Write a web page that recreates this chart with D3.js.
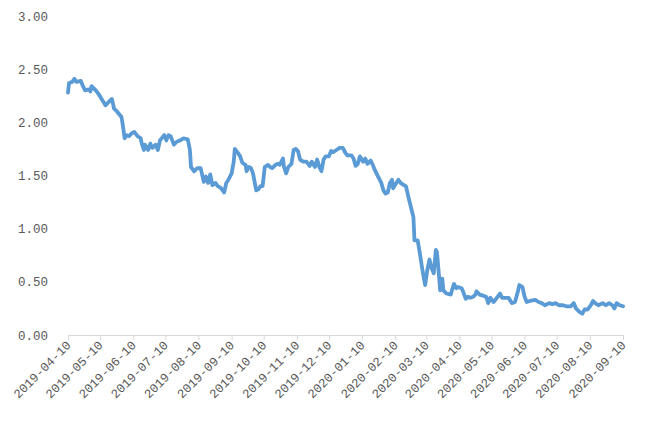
<!DOCTYPE html>
<html>
<head>
<meta charset="utf-8">
<script src="https://cdn.jsdelivr.net/npm/d3@7/dist/d3.min.js"></script>
<style>
  html, body { margin: 0; padding: 0; background: #fff; }
  svg { display: block; }
  text { font-family: "Liberation Mono", "DejaVu Sans Mono", monospace; fill: #595959; }
</style>
</head>
<body>
<svg id="chart" width="664" height="427"></svg>
<script>
const dates = [
"2019-04-10","2019-04-11","2019-04-14","2019-04-16","2019-04-18","2019-04-22","2019-04-24","2019-04-26","2019-04-29","2019-05-01",
"2019-05-02","2019-05-06","2019-05-09","2019-05-12","2019-05-15","2019-05-17","2019-05-21","2019-05-22","2019-05-23","2019-05-26",
"2019-05-30","2019-05-31","2019-06-02","2019-06-04","2019-06-06","2019-06-09","2019-06-11","2019-06-14","2019-06-17","2019-06-18",
"2019-06-20","2019-06-21","2019-06-24","2019-06-26","2019-06-28","2019-07-01","2019-07-03","2019-07-05","2019-07-09","2019-07-11",
"2019-07-13","2019-07-15","2019-07-18","2019-07-21","2019-07-24","2019-07-27","2019-07-31","2019-08-02","2019-08-03","2019-08-06",
"2019-08-09","2019-08-12","2019-08-15","2019-08-17","2019-08-19","2019-08-21","2019-08-23","2019-08-26","2019-08-28","2019-08-30",
"2019-09-01","2019-09-03","2019-09-05","2019-09-07","2019-09-10","2019-09-12","2019-09-13","2019-09-16","2019-09-18","2019-09-20",
"2019-09-23","2019-09-24","2019-09-26","2019-09-28","2019-09-30","2019-10-03","2019-10-05","2019-10-07","2019-10-09","2019-10-11",
"2019-10-14","2019-10-16","2019-10-18","2019-10-21","2019-10-23","2019-10-25","2019-10-28","2019-10-29","2019-10-31","2019-11-02",
"2019-11-05","2019-11-07","2019-11-09","2019-11-11","2019-11-13","2019-11-16","2019-11-19","2019-11-22","2019-11-24","2019-11-27",
"2019-11-29","2019-12-01","2019-12-03","2019-12-05","2019-12-07","2019-12-10","2019-12-12","2019-12-14","2019-12-17","2019-12-20",
"2019-12-23","2019-12-25","2019-12-27","2019-12-31","2020-01-02","2020-01-04","2020-01-06","2020-01-08","2020-01-11","2020-01-13",
"2020-01-15","2020-01-18","2020-01-20","2020-01-22","2020-01-25","2020-01-28","2020-01-30","2020-02-01","2020-02-03","2020-02-05",
"2020-02-07","2020-02-08","2020-02-11","2020-02-13","2020-02-15","2020-02-18","2020-02-20","2020-02-23","2020-02-25","2020-02-27",
"2020-02-28","2020-03-02","2020-03-04","2020-03-06","2020-03-08","2020-03-09","2020-03-11","2020-03-13","2020-03-15","2020-03-17",
"2020-03-19","2020-03-20","2020-03-22","2020-03-23","2020-03-25","2020-03-26","2020-03-29","2020-04-02","2020-04-03","2020-04-05",
"2020-04-07","2020-04-09","2020-04-12","2020-04-13","2020-04-16","2020-04-18","2020-04-20","2020-04-23","2020-04-25","2020-04-26",
"2020-04-29","2020-05-02","2020-05-05","2020-05-07","2020-05-09","2020-05-12","2020-05-15","2020-05-18","2020-05-20","2020-05-23",
"2020-05-26","2020-05-29","2020-06-01","2020-06-04","2020-06-05","2020-06-08","2020-06-10","2020-06-12","2020-06-15","2020-06-20",
"2020-06-23","2020-06-26","2020-06-29","2020-07-03","2020-07-06","2020-07-09","2020-07-12","2020-07-16","2020-07-19","2020-07-23",
"2020-07-26","2020-07-28","2020-07-31","2020-08-03","2020-08-05","2020-08-08","2020-08-11","2020-08-13","2020-08-15","2020-08-18",
"2020-08-22","2020-08-25","2020-08-28","2020-08-31","2020-09-02","2020-09-04","2020-09-07","2020-09-10"
];
const values = [
2.28,2.37,2.38,2.41,2.38,2.39,2.34,2.30,2.31,2.29,
2.34,2.30,2.26,2.21,2.16,2.18,2.22,2.18,2.13,2.10,
2.05,1.99,1.85,1.88,1.87,1.90,1.91,1.87,1.85,1.80,
1.74,1.79,1.74,1.80,1.76,1.79,1.74,1.83,1.88,1.83,
1.88,1.87,1.79,1.82,1.83,1.85,1.84,1.74,1.58,1.54,
1.57,1.57,1.44,1.49,1.43,1.51,1.41,1.43,1.40,1.39,
1.37,1.34,1.43,1.46,1.52,1.63,1.75,1.71,1.68,1.62,
1.60,1.54,1.58,1.57,1.52,1.36,1.37,1.40,1.40,1.58,
1.60,1.58,1.57,1.60,1.61,1.60,1.66,1.58,1.52,1.58,
1.61,1.74,1.75,1.73,1.65,1.63,1.63,1.59,1.63,1.58,
1.65,1.58,1.54,1.65,1.68,1.68,1.73,1.72,1.74,1.76,
1.76,1.72,1.69,1.69,1.66,1.59,1.61,1.68,1.63,1.66,
1.61,1.64,1.60,1.55,1.49,1.43,1.36,1.33,1.34,1.43,
1.46,1.38,1.43,1.46,1.43,1.41,1.40,1.27,1.19,1.11,
0.89,0.89,0.77,0.64,0.52,0.47,0.61,0.71,0.63,0.58,
0.80,0.78,0.55,0.42,0.53,0.42,0.39,0.38,0.42,0.48,
0.44,0.45,0.44,0.42,0.34,0.36,0.35,0.36,0.38,0.41,
0.38,0.37,0.36,0.30,0.35,0.31,0.35,0.39,0.35,0.35,
0.35,0.30,0.31,0.42,0.47,0.45,0.36,0.31,0.32,0.33,
0.31,0.30,0.28,0.30,0.29,0.30,0.28,0.28,0.27,0.27,
0.30,0.25,0.22,0.20,0.24,0.24,0.28,0.32,0.30,0.28,
0.30,0.28,0.30,0.28,0.25,0.30,0.28,0.27
];
const yTicks = [0, 0.5, 1.0, 1.5, 2.0, 2.5, 3.0];
const xTickLabels = [
"2019-04-10","2019-05-10","2019-06-10","2019-07-10","2019-08-10","2019-09-10",
"2019-10-10","2019-11-10","2019-12-10","2020-01-10","2020-02-10","2020-03-10",
"2020-04-10","2020-05-10","2020-06-10","2020-07-10","2020-08-10","2020-09-10"
];

const parse = d3.timeParse("%Y-%m-%d");
const data = dates.map((d, i) => ({ date: parse(d), value: values[i] }));

const svg = d3.select("#chart");
const margin = { left: 68, right: 41, top: 16, bottom: 92 };
const W = 664, H = 427;

const x = d3.scaleTime()
  .domain([parse(xTickLabels[0]), parse(xTickLabels[xTickLabels.length - 1])])
  .range([margin.left, W - margin.right]);
const y = d3.scaleLinear()
  .domain([0, 3])
  .range([H - margin.bottom, margin.top]);

// y-axis labels (no line)
const yAxis = svg.append("g")
  .attr("transform", `translate(${margin.left},0)`)
  .call(d3.axisLeft(y).tickValues(yTicks).tickFormat(d3.format(".2f")).tickSize(0).tickPadding(20));
yAxis.select(".domain").remove();
yAxis.selectAll("text").style("font-size", "12.5px").attr("fill", "#595959");

// x-axis
const xAxis = svg.append("g")
  .attr("transform", `translate(0,${y(0)})`)
  .call(d3.axisBottom(x).tickValues(xTickLabels.map(parse)).tickFormat(d3.timeFormat("%Y-%m-%d")).tickSizeInner(5).tickSizeOuter(0));
xAxis.select(".domain").attr("stroke", "#d9d9d9").attr("stroke-width", 1);
xAxis.selectAll(".tick line").attr("stroke", "#d9d9d9");
xAxis.selectAll("text")
  .style("font-size", "12.5px")
  .attr("fill", "#595959")
  .attr("text-anchor", "end")
  .attr("y", 0).attr("dy", "0")
  .attr("transform", "translate(3,11) rotate(-45)");

// line
const line = d3.line()
  .x(d => x(d.date))
  .y(d => y(d.value));
svg.append("path")
  .datum(data)
  .attr("fill", "none")
  .attr("stroke", "#5B9BD5")
  .attr("stroke-width", 3.8)
  .attr("stroke-linejoin", "round")
  .attr("stroke-linecap", "round")
  .attr("d", line);
</script>
</body>
</html>
